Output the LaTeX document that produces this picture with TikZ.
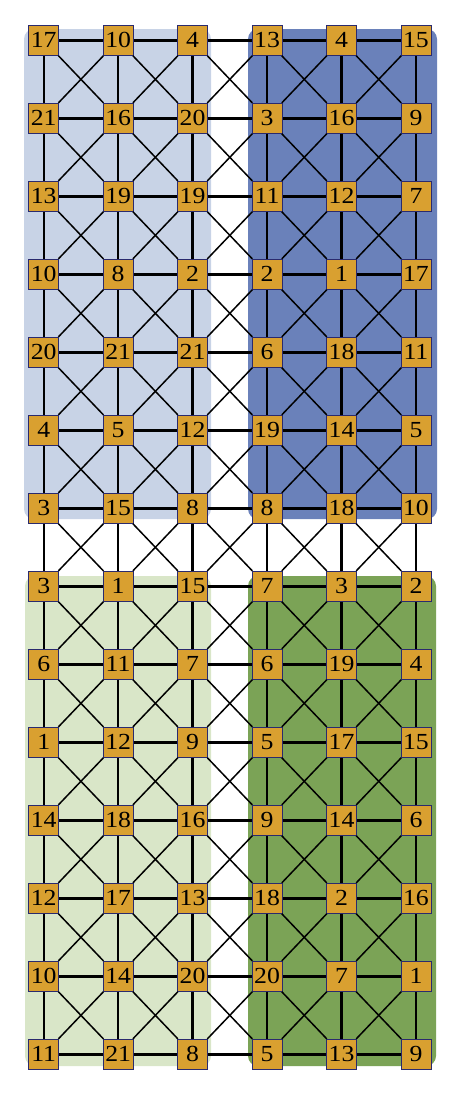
\documentclass[tikz,border=0pt]{standalone}
\usepackage{fontspec}
\setmainfont{Liberation Serif}
\newfontfamily\cellfont[FakeStretch=1.12]{Liberation Serif}
\usepackage{xcolor}
\definecolor{lightblue}{HTML}{C8D3E6}
\definecolor{darkblue}{HTML}{6A81BA}
\definecolor{lightgreen}{HTML}{D9E6C8}
\definecolor{darkgreen}{HTML}{7BA356}
\definecolor{cellgold}{HTML}{D9A030}
\definecolor{cellnavy}{HTML}{2A2A6E}

\begin{document}
\begin{tikzpicture}[x=1pt, y=-1pt,
	cell/.style={draw=cellnavy, fill=cellgold, line width=0.9pt, minimum size=30pt, inner sep=0pt, font=\cellfont\fontsize{23}{23}\selectfont},
	edge/.style={black, line width=2.4pt},
	cross/.style={black, line width=1.5pt}]
				\useasboundingbox (0, 0) rectangle (461, 1101);
				% quadrants
				\fill [lightblue, rounded corners=10pt] (24, 29) rectangle (211, 519);
				\fill [darkblue, rounded corners=10pt] (248, 29) rectangle (437, 519);
				\fill [lightgreen, rounded corners=10pt] (25, 576) rectangle (211, 1066);
				\fill [darkgreen, rounded corners=10pt] (248, 576) rectangle (436, 1066);
				% cells
				\foreach \row [count=\j] in {{17,10,4,13,4,15}, {21,16,20,3,16,9}, {13,19,19,11,12,7},
					{10,8,2,2,1,17}, {20,21,21,6,18,11}, {4,5,12,19,14,5}, {3,15,8,8,18,10},
					{3,1,15,7,3,2}, {6,11,7,6,19,4}, {1,12,9,5,17,15}, {14,18,16,9,14,6},
					{12,17,13,18,2,16}, {10,14,20,20,7,1}, {11,21,8,5,13,9}}
					\foreach \lab [count=\i] in \row
						\node [cell] (n\j-\i) at ({43.7+74.45*(\i-1)}, {40.3+78*(\j-1)}) {\lab};
				% rows and columns
				\foreach \j in {1,...,14}
					\foreach \i/\k in {1/2,2/3,3/4,4/5,5/6}
						\draw [edge] (n\j-\i)--(n\j-\k);
				\foreach \j/\m in {1/2,2/3,3/4,4/5,5/6,6/7,7/8,8/9,9/10,10/11,11/12,12/13,13/14} {
					\foreach \i in {1,...,6}
						\draw [edge] (n\j-\i)--(n\m-\i);
					\foreach \i/\k in {1/2,2/3,3/4,4/5,5/6} {
						\draw [cross] (n\j-\i)--(n\m-\k);
						\draw [cross] (n\j-\k)--(n\m-\i);
					}
				}

			\end{tikzpicture}
\end{document}
